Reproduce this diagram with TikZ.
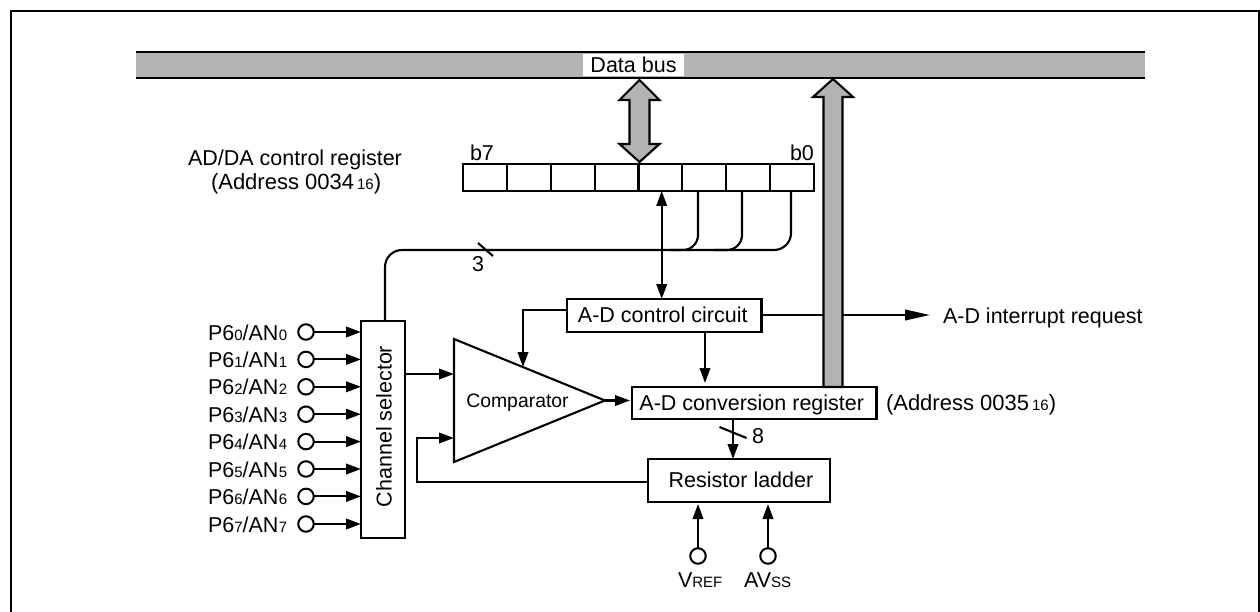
\documentclass[tikz,border=0pt]{standalone}
\usepackage{fontspec}
\setmainfont{Liberation Sans}
\usetikzlibrary{arrows.meta,calc}
\definecolor{busgray}{HTML}{B3B3B3}
\newcommand{\smd}[1]{{\fontsize{15}{16}\selectfont #1}}
\tikzset{
  txt/.style={font=\fontsize{21.5}{25}\selectfont,inner sep=0pt,outer sep=0pt},
  lbl/.style={txt,anchor=base west},
  boxed/.style={txt,draw,fill=white,line width=2.1pt,align=center,text height=15.5pt,text depth=2.5pt},
  cell/.style={draw,fill=white,line width=2.1pt,inner sep=0pt,outer sep=0pt,minimum width=43.875pt,minimum height=27pt},
  pin/.style={circle,draw,fill=white,line width=2pt,inner sep=0pt,outer sep=0pt,minimum size=15.5pt},
  wire/.style={line width=2.1pt},
  arr/.style={wire,-{Triangle[length=15pt,width=10.5pt]}},
  bigarr/.style={draw,fill=busgray,line width=2.1pt,line join=miter},
}
\begin{document}
\begin{tikzpicture}[x=1pt,y=-1pt]
\useasboundingbox (0,0) rectangle (1260,612);
\fill[white] (0,0) rectangle (1260,612);
% frame
\draw[line width=2.6pt] (11,612) -- (11,11) -- (1259,11) -- (1259,612);
% data bus
\fill[busgray] (136,52) rectangle (1145,78);
\draw[line width=1.6pt] (136,52) -- (1145,52);
\draw[line width=2.1pt] (136,78) -- (1145,78);
\node[txt,fill=white,minimum width=101pt,minimum height=22pt] (bus) at (633.5,65) {Data bus};
% register
\foreach \i in {0,...,7}{
  \node[cell] (r\i) at ({463+43.875*(\i+0.5)},177.5) {};
}
\node[lbl] (b7) at (470,161) {b7};
\node[lbl] (b0) at (790,161) {b0};
\node[txt,anchor=base] (regname) at (295,166) {AD/DA control register};
\node[lbl,font=\fontsize{22}{25}\selectfont] (regaddr) at (211,190) {(Address 0034\kern3pt\smd{16})};
% boxes
\node[boxed,minimum width=194.5pt,minimum height=33pt] (ctrl) at (664.25,315.5) {A-D control circuit\kern3pt};
\node[boxed,minimum width=244.5pt,minimum height=32pt,text depth=1.5pt] (conv) at (754.25,403) {A-D conversion register\kern5pt};
\node[boxed,minimum width=182pt,minimum height=43pt] (ladder) at (739,480.5) {\kern4pt Resistor ladder};
\node[draw,fill=white,line width=2.1pt,inner sep=0pt,outer sep=0pt,minimum width=44pt,minimum height=217pt] (cs) at (383,429.5) {};
\node[txt,rotate=90,anchor=base] (cstext) at (391.5,426.5) {Channel selector};
% comparator
\coordinate (ta) at (454,339);
\coordinate (tb) at (454,462);
\coordinate (tip) at (605,400.5);
\draw[line width=2.1pt,line join=miter] (ta) -- (tip) -- (tb) -- cycle;
\node[txt,anchor=base,font=\fontsize{19.4}{22}\selectfont] (cmp) at (517.5,407) {Comparator};
\node[lbl,font=\fontsize{22}{25}\selectfont] (convaddr) at (886,410) {(Address 0035\kern3pt\smd{16})};
\node[lbl] (irq) at (943,323) {A-D interrupt request};
% data-bus double arrow
\draw[bigarr] (639.5,80) -- (659.5,100) -- (649.5,100) -- (649.5,144) -- (659.5,144) -- (639.5,162)
  -- (619.5,144) -- (629.5,144) -- (629.5,100) -- (619.5,100) -- cycle;
% wires from control register
\coordinate (wa) at (385,250);
\coordinate (wb) at (791,250);
\draw[wire,rounded corners=17pt] (wa |- cs.north) -- (wa) -- (wb) -- (wb |- r7.south);
\coordinate (wc) at (698,250);
\coordinate (wd) at (742,250);
\draw[wire,rounded corners=15pt] (wc |- r5.south) -- (wc) -- (670,250);
\draw[wire,rounded corners=15pt] (wd |- r6.south) -- (wd) -- (714,250);
\coordinate (s3a) at (478,243);
\coordinate (s3b) at (493,256);
\draw[wire] (s3a) -- (s3b);
\node[txt,anchor=base] (n3) at (478,272) {3};
% control <-> register
\draw[wire,{Triangle[length=15pt,width=10.5pt]}-{Triangle[length=15pt,width=10.5pt]}] (661.7,0 |- r4.south) -- (661.7,0 |- ctrl.north);
% interrupt line (under the arrow to the bus)
\coordinate (irqend) at (930,315);
\draw[wire,-{Triangle[length=25pt,width=10.5pt]}] (ctrl.east |- irqend) -- (irqend);
% conversion register to bus
\draw[bigarr] (833,79) -- (853,97) -- (842.5,97) -- (842.5,387) -- (823.5,387) -- (823.5,97) -- (813,97) -- cycle;
% control to comparator
\coordinate (ck) at (523,367);
\draw[arr] (ctrl.west |- 0,310) -- (ck |- 0,310) -- (ck);
% control to conversion
\draw[arr,shorten >=4pt] (705,0 |- ctrl.south) -- (705,0 |- conv.north);
% comparator to conversion
\draw[arr,shorten >=2pt] (tip) -- (conv.west |- tip);
% channel selector to comparator
\draw[arr] (cs.east |- 0,374) -- (ta |- 0,374);
% ladder feedback
\coordinate (fb) at (417,482);
\draw[arr] (ladder.west |- fb) -- (fb) -- (417,438) -- (ta |- 0,438);
% conversion to ladder
\draw[arr] (733,0 |- conv.south) -- (733,0 |- ladder.north);
\coordinate (s8a) at (719.5,427);
\coordinate (s8b) at (746.5,438);
\draw[wire] (s8a) -- (s8b);
\node[lbl] (n8) at (752,443) {8};
% inputs
\foreach \i/\y in {0/332,1/359.4,2/386.8,3/414.2,4/441.6,5/469,6/496.4,7/524}{
  \node[pin] (in\i) at (306,\y) {};
  \node[lbl] (pl\i) at (208,\y+8) {P6\smd{\i}/AN\kern.5pt\smd{\i}};
  \draw[arr] (in\i.east) -- (cs.west |- in\i);
}
% reference pins
\node[pin] (vref) at (698,556) {};
\node[pin] (avss) at (768,556) {};
\draw[arr,shorten >=2pt] (vref.north) -- (vref |- ladder.south);
\draw[arr,shorten >=2pt] (avss.north) -- (avss |- ladder.south);
\node[lbl] (vl) at (678,587) {V\smd{REF}};
\node[lbl] (al) at (744,587) {AV\smd{SS}};
\end{tikzpicture}
\end{document}
